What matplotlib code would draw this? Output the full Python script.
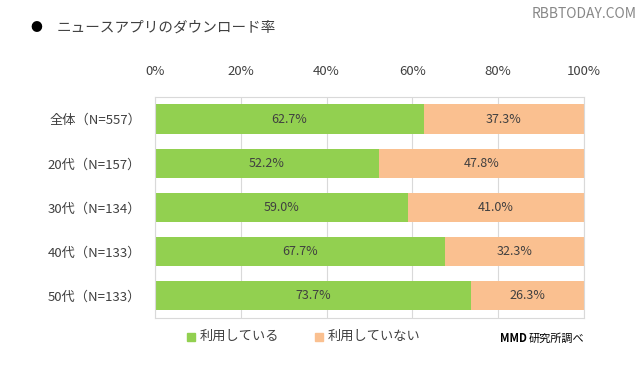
import matplotlib
matplotlib.use("Agg")
import matplotlib.pyplot as plt
from matplotlib.patches import Rectangle

plt.rcParams['font.family'] = ['Noto Sans CJK JP', 'DejaVu Sans']

categories = ["全体（N=557）", "20代（N=157）", "30代（N=134）", "40代（N=133）", "50代（N=133）"]
using = [62.7, 52.2, 59.0, 67.7, 73.7]
not_using = [37.3, 47.8, 41.0, 32.3, 26.3]
series_names = ["利用している", "利用していない"]
tick_values = [0, 20, 40, 60, 80, 100]

green = "#92D050"
orange = "#FAC090"
text_c = "#404040"

fig = plt.figure(figsize=(6.4, 3.73), dpi=100)
ax = fig.add_axes([0.242, 0.1475, 0.6705, 0.5925])

y = list(range(len(categories)))
ax.barh(y, using, height=0.66, color=green, zorder=2)
ax.barh(y, not_using, left=using, height=0.66, color=orange, zorder=2)

for i in y:
    ax.text(using[i] / 2, i, f"{using[i]:.1f}%", ha="center", va="center",
            fontsize=9, color=text_c, zorder=3)
    ax.text(using[i] + not_using[i] / 2, i, f"{not_using[i]:.1f}%", ha="center",
            va="center", fontsize=9, color=text_c, zorder=3)

ax.set_xlim(0, 100)
ax.set_ylim(len(categories) - 0.5, -0.5)
ax.set_xticks(tick_values)
ax.set_xticklabels([f"{v}%" for v in tick_values], fontsize=9.5, color=text_c)
ax.xaxis.tick_top()
ax.tick_params(axis="x", length=0, pad=14)
ax.set_yticks(y)
ax.set_yticklabels(categories, fontsize=9.5, color=text_c)
ax.tick_params(axis="y", length=0, pad=10)
ax.grid(axis="x", color="#D9D9D9", linewidth=0.8, zorder=1)
for s in ax.spines.values():
    s.set_color("#D9D9D9")
    s.set_linewidth(0.8)

# title and watermark
fig.text(0.047, 0.925, "●", fontsize=8.5, color="black", va="center")
fig.text(0.089, 0.925, "ニュースアプリのダウンロード率", fontsize=10.5,
         color=text_c, va="center")
fig.text(0.995, 0.962, "RBBTODAY.COM", fontsize=10, color="#888888",
         ha="right", va="center")

# legend
fig.add_artist(Rectangle((0.2925, 0.087), 0.0125, 0.0215, color=green,
                         transform=fig.transFigure))
fig.text(0.3125, 0.098, series_names[0], fontsize=9.5, color=text_c, va="center")
fig.add_artist(Rectangle((0.4925, 0.087), 0.0125, 0.0215, color=orange,
                         transform=fig.transFigure))
fig.text(0.5125, 0.098, series_names[1], fontsize=9.5, color=text_c, va="center")
fig.text(0.782, 0.092, "MMD", fontsize=8, fontweight="bold", color="black", va="center")
fig.text(0.826, 0.092, "研究所調べ", fontsize=8, color="black", va="center")

fig.savefig("out.png", dpi=100)
